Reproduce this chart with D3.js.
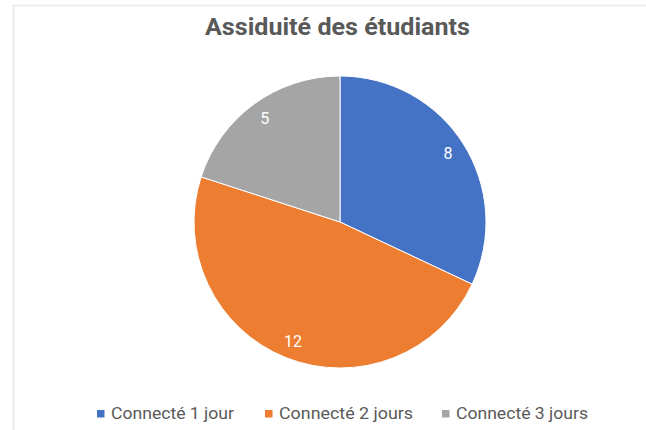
<!DOCTYPE html>
<html><head><meta charset="utf-8">
<script src="https://cdn.jsdelivr.net/npm/d3@7"></script>
<style>html,body{margin:0;padding:0;background:#fff;}</style>
</head><body>
<svg id="chart" width="646" height="430"></svg>
<script>
const title = "Assiduité des étudiants";
const categories = ["Connecté 1 jour", "Connecté 2 jours", "Connecté 3 jours"];
const values = [8, 12, 5];
const colors = ["#4472C4", "#ED7D31", "#A5A5A5"];

const svg = d3.select("#chart");
const W = 646, H = 430;
svg.append("rect").attr("x", 0).attr("y", 0).attr("width", W).attr("height", H).attr("fill", "#fff");
// faint chart-area border
svg.append("path").attr("d", "M13.5,430 L13.5,5.5 L646,5.5").attr("fill", "none").attr("stroke", "#e8e8e8").attr("stroke-width", 1.5);

svg.append("text").attr("x", 337.5).attr("y", 35).attr("text-anchor", "middle")
  .attr("font-family", "Roboto, 'DejaVu Sans Condensed', sans-serif").attr("font-weight", "bold")
  .attr("font-size", 23).attr("fill", "#595959")
  .attr("textLength", 265).attr("lengthAdjust", "spacingAndGlyphs").text(title);

const cx = 340, cy = 222, R = 146;
const data = categories.map((c, i) => ({cat: c, value: values[i], color: colors[i]}));
const pie = d3.pie().value(d => d.value).sort(null);
const arcs = pie(data);
const arc = d3.arc().innerRadius(0).outerRadius(R);
const labelArc = d3.arc().innerRadius(128).outerRadius(128);
const g = svg.append("g").attr("transform", `translate(${cx},${cy})`);
g.selectAll("path.slice").data(arcs).join("path").attr("class", "slice")
  .attr("d", arc).attr("fill", d => d.data.color).attr("stroke", "#fff").attr("stroke-width", 1);
g.selectAll("text.lbl").data(arcs).join("text").attr("class", "lbl")
  .attr("transform", d => `translate(${labelArc.centroid(d)})`)
  .attr("text-anchor", "middle").attr("dominant-baseline", "central")
  .attr("font-family", "Roboto, sans-serif").attr("font-size", 16).attr("fill", "#fff")
  .text(d => d.data.value);

// legend
const legX = [97, 265, 442];
const legW = [123, 134, 132];
const lg = svg.append("g");
data.forEach((d, i) => {
  lg.append("rect").attr("x", legX[i]).attr("y", 410).attr("width", 7.5).attr("height", 7.5).attr("fill", d.color);
  lg.append("text").attr("x", legX[i] + 14).attr("y", 418.5)
    .attr("font-family", "Roboto, sans-serif").attr("font-size", 16).attr("fill", "#595959")
    .attr("textLength", legW[i]).attr("lengthAdjust", "spacingAndGlyphs").text(d.cat);
});
</script>
</body></html>
